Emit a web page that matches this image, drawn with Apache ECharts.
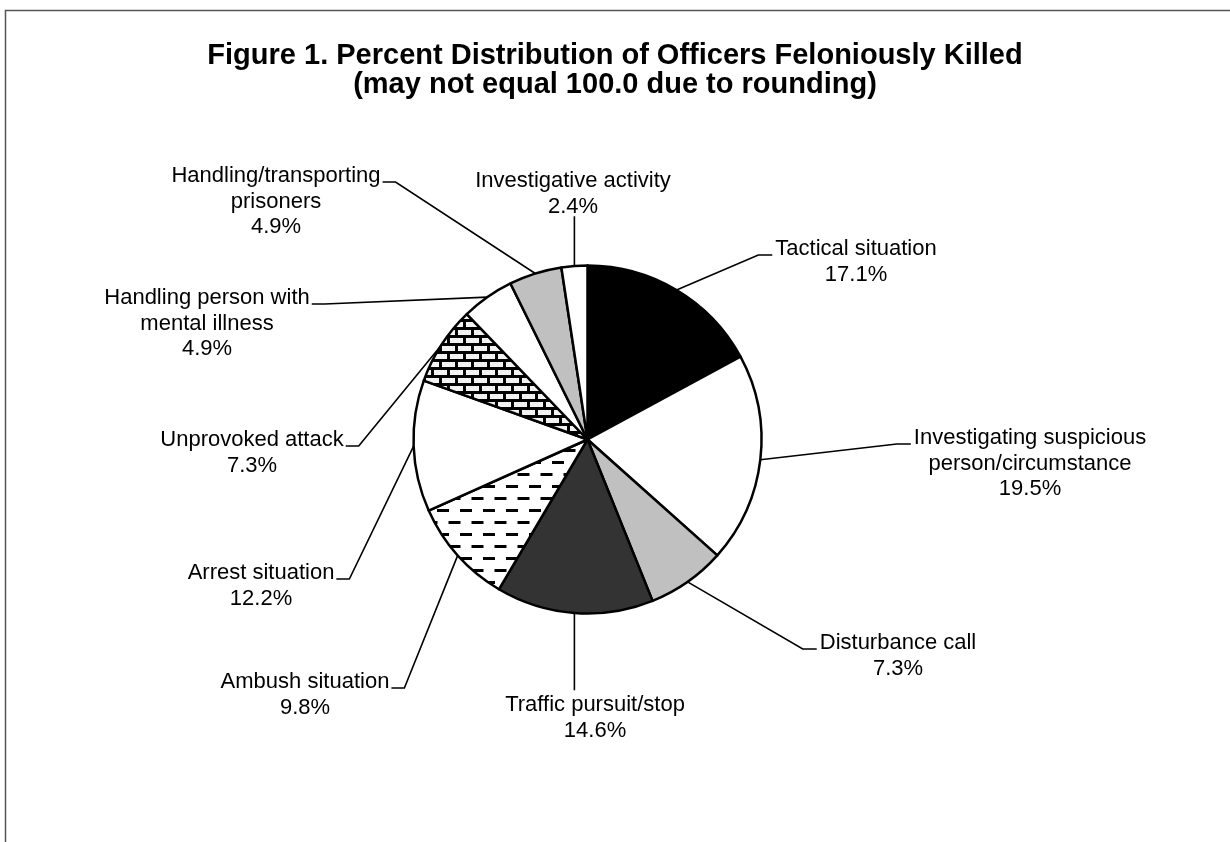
<!DOCTYPE html>
<html>
<head>
<meta charset="utf-8">
<script src="https://cdn.jsdelivr.net/npm/echarts@6/dist/echarts.min.js"></script>
<style>
html,body{margin:0;padding:0;background:#fff;}
#chart{width:1230px;height:842px;}
</style>
</head>
<body>
<div id="chart"></div>
<script>
// ---- data ----
const categories = [
  "Tactical situation",
  "Investigating suspicious\nperson/circumstance",
  "Disturbance call",
  "Traffic pursuit/stop",
  "Ambush situation",
  "Arrest situation",
  "Unprovoked attack",
  "Handling person with\nmental illness",
  "Handling/transporting\nprisoners",
  "Investigative activity"
];
const percents = [17.1, 19.5, 7.3, 14.6, 9.8, 12.2, 7.3, 4.9, 4.9, 2.4];
const titleLines = [
  "Figure 1. Percent Distribution of Officers Feloniously Killed",
  "(may not equal 100.0 due to rounding)"
];

// ---- styles ----
function brickPattern() {
  const c = document.createElement('canvas');
  c.width = 16; c.height = 16;
  const g = c.getContext('2d');
  g.fillStyle = '#000'; g.fillRect(0, 0, 16, 16);
  g.fillStyle = '#f2f2f2';
  g.fillRect(2, 2, 13, 5);
  g.fillRect(10, 10, 13, 5);
  g.fillRect(-6, 10, 13, 5);
  return c;
}
function dashPattern() {
  const c = document.createElement('canvas');
  c.width = 23; c.height = 24;
  const g = c.getContext('2d');
  g.fillStyle = '#fff'; g.fillRect(0, 0, 23, 24);
  g.fillStyle = '#000';
  g.fillRect(0, 5, 12, 3);
  g.fillRect(11.5, 17, 12, 3);
  g.fillRect(-11.5, 17, 12, 3);
  return c;
}
const fills = [
  '#000000', '#ffffff', '#c0c0c0', '#333333',
  {image: dashPattern(), repeat: 'repeat'},
  '#ffffff',
  {image: brickPattern(), repeat: 'repeat'},
  '#ffffff', '#c0c0c0', '#ffffff'
];

// label placement: [centerX, firstLineCenterY, side where leader attaches]
const labelPlace = [
  [856, 249, 'left'],
  [1030, 438, 'left'],
  [898, 643, 'left'],
  [595, 705, 'top'],
  [305, 682, 'right'],
  [261, 573, 'right'],
  [252, 440, 'right'],
  [207, 298, 'right'],
  [276, 176, 'right'],
  [573, 181, 'bottom']
];
const FONT_SIZE = 22, LINE_H = 25.5;
const FONT_FAMILY = '"Liberation Sans", Arial, Helvetica, sans-serif';
const measureCtx = document.createElement('canvas').getContext('2d');
measureCtx.font = FONT_SIZE + 'px ' + FONT_FAMILY;

const chart = echarts.init(document.getElementById('chart'), null, {renderer: 'canvas'});
chart.setOption({
  animation: false,
  backgroundColor: '#fff',
  title: {
    text: titleLines.join('\n'),
    left: 'center',
    top: 36,
    textStyle: {
      fontFamily: FONT_FAMILY, fontSize: 29, fontWeight: 'bold',
      color: '#000', lineHeight: 29
    }
  },
  graphic: [{
    type: 'rect',
    shape: {x: 5.5, y: 10.5, width: 1400, height: 1000},
    style: {fill: 'none', stroke: '#555', lineWidth: 1.5},
    silent: true
  }],
  series: [{
    type: 'pie',
    center: [587.5, 439.5],
    radius: [0, 174],
    startAngle: 90,
    clockwise: true,
    avoidLabelOverlap: false,
    emphasis: {disabled: true, scale: false},
    data: categories.map((n, i) => ({
      name: n, value: percents[i],
      itemStyle: {color: fills[i]}
    })),
    itemStyle: {borderColor: '#000', borderWidth: 2.5},
    label: {
      show: true,
      position: 'outside',
      formatter: p => p.name + '\n' + p.value.toFixed(1) + '%',
      fontFamily: FONT_FAMILY,
      fontSize: FONT_SIZE,
      lineHeight: LINE_H,
      color: '#000',
      align: 'center'
    },
    labelLine: {
      show: true, length: 20, length2: 10, smooth: false,
      lineStyle: {color: '#000', width: 1.6}
    },
    labelLayout: function (params) {
      const i = params.dataIndex;
      const pl = labelPlace[i];
      const cx = pl[0], fy = pl[1], side = pl[2];
      const top = fy - LINE_H / 2;
      const lines = categories[i].split('\n').length + 1;
      const firstW = measureCtx.measureText(categories[i].split('\n')[0]).width;
      const start = params.labelLinePoints ? params.labelLinePoints[0] : null;
      const out = {x: cx, y: top, align: 'center', verticalAlign: 'top'};
      if (start) {
        let pts;
        if (side === 'left') {
          const ex = cx - firstW / 2 - 3, ey = fy + 6;
          pts = [start, [ex - 14, ey], [ex, ey]];
        } else if (side === 'right') {
          const ex = cx + firstW / 2 + 2, ey = fy + 6;
          pts = [start, [ex + 13, ey], [ex, ey]];
        } else if (side === 'bottom') {
          const ey = top + lines * LINE_H - 3;
          pts = [start, [start[0], ey]];
        } else {
          const ey = top - 2;
          pts = [start, [start[0], ey]];
        }
        out.labelLinePoints = pts;
      }
      return out;
    }
  }]
});
</script>
</body>
</html>
